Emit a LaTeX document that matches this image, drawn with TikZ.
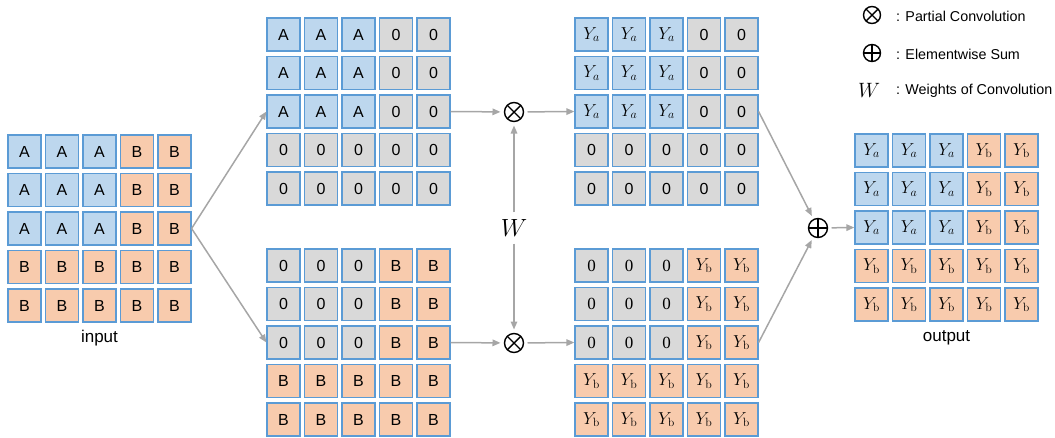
\documentclass[tikz,border=0pt]{standalone}
\usepackage[no-math]{fontspec}
\setsansfont{Liberation Sans}
\newfontfamily\zerofont{Liberation Serif}
\usetikzlibrary{arrows.meta}
\definecolor{cblue}{HTML}{BDD7EE}
\definecolor{corange}{HTML}{F8CBAD}
\definecolor{cgray}{HTML}{D9D9D9}
\definecolor{cedge}{HTML}{5B9BD5}
\definecolor{carrow}{HTML}{A6A6A6}
\newcommand\mygrid[4]{%
  \foreach \rw [count=\r] in {#4} {
    \foreach \c [count=\k] in \rw {
      \pgfmathsetmacro\xx{#2+16.5+(\k-1)*37.5}
      \pgfmathsetmacro\yy{#3+16.5+(\r-1)*38.5}
      \edef\mknode{\noexpand\node at (\xx,\yy) [cell,c\c,name=#1-\r-\k];}
      \mknode
    }
  }}
\begin{document}
\begin{tikzpicture}[x=1pt,y=-1pt,
  cell/.style={draw=cedge, line width=1.2pt, minimum size=33pt, inner sep=0pt,
    font=\sffamily\fontsize{16}{16}\selectfont},
  cA/.style={fill=cblue, node contents={A}},
  cB/.style={fill=corange, node contents={B}},
  c0/.style={fill=cgray, node contents={0}},
  ca/.style={fill=cblue, font=\fontsize{17}{17}\selectfont, node contents={$Y_a$}},
  cb/.style={fill=corange, font=\fontsize{17}{17}\selectfont, node contents={$Y_{\mathrm{b}}$}},
  co/.style={fill=cgray, font=\zerofont\fontsize{17}{17}\selectfont, node contents={0}},
  arr/.style={draw=carrow, line width=1.5pt, -{Triangle[length=8pt,width=6.5pt]}},
  otim/.style={circle, draw, line width=1.4pt, minimum size=19pt, inner sep=0pt, outer sep=4pt,
    path picture={\draw[line width=1.4pt] (path picture bounding box.north east) -- (path picture bounding box.south west)
      (path picture bounding box.north west) -- (path picture bounding box.south east);}},
  oplu/.style={circle, draw, line width=1.4pt, minimum size=19pt, inner sep=0pt, outer sep=4pt,
    path picture={\draw[line width=1.4pt] (path picture bounding box.north) -- (path picture bounding box.south)
      (path picture bounding box.west) -- (path picture bounding box.east);}},
  lbl/.style={font=\sffamily\fontsize{17}{17}\selectfont},
  leg/.style={font=\sffamily\fontsize{14.3}{14.3}\selectfont, anchor=west, inner sep=0pt}
]
\useasboundingbox (0,0) rectangle (1055,437);

\mygrid{in}{8}{135}{{A,A,A,B,B},{A,A,A,B,B},{A,A,A,B,B},{B,B,B,B,B},{B,B,B,B,B}}
\mygrid{tm}{267}{18}{{A,A,A,0,0},{A,A,A,0,0},{A,A,A,0,0},{0,0,0,0,0},{0,0,0,0,0}}
\mygrid{bm}{267}{249}{{0,0,0,B,B},{0,0,0,B,B},{0,0,0,B,B},{B,B,B,B,B},{B,B,B,B,B}}
\mygrid{tr}{575}{18}{{a,a,a,0,0},{a,a,a,0,0},{a,a,a,0,0},{0,0,0,0,0},{0,0,0,0,0}}
\mygrid{br}{575}{249}{{o,o,o,b,b},{o,o,o,b,b},{o,o,o,b,b},{b,b,b,b,b},{b,b,b,b,b}}
\mygrid{out}{855}{134}{{a,a,a,b,b},{a,a,a,b,b},{a,a,a,b,b},{b,b,b,b,b},{b,b,b,b,b}}

\node[lbl] (inlbl) at (99.5,338) {input};
\node[lbl] (outlbl) at (946.5,338) {output};

\node[otim] (ot1) at (514,112) {};
\node[otim] (ot2) at (514,343) {};
\node[oplu] (op) at (818,228) {};
\node[inner sep=7pt, font=\fontsize{24}{24}\selectfont] (W) at (514,228) {$W$};

\draw[arr] (in-3-5.east) -- (tm-3-1.west);
\draw[arr] (in-3-5.east) -- (bm-3-1.west);
\draw[arr] (tm-3-5.east) -- (ot1);
\draw[arr] (ot1) -- (tr-3-1.west);
\draw[arr] (bm-3-5.east) -- (ot2);
\draw[arr] (ot2) -- (br-3-1.west);
\draw[arr] (W) -- (ot1);
\draw[arr] (W) -- (ot2);
\draw[arr] (tr-3-5.east) -- (op);
\draw[arr] (br-3-5.east) -- (op);
\draw[arr] (op) -- (out-3-1.west);

% legend
\node[otim, minimum size=17pt, outer sep=0pt] (l1) at (872,15) {};
\node[oplu, minimum size=17pt, outer sep=0pt] (l2) at (872,53) {};
\node[font=\fontsize{21}{21}\selectfont, inner sep=0pt] (l3) at (869,90) {$W$};
\node[leg] (t1) at (896,16) {: Partial Convolution};
\node[leg] (t2) at (896,54) {: Elementwise Sum};
\node[leg] (t3) at (896,91) {: Weights of Convolution};
\end{tikzpicture}
\end{document}
